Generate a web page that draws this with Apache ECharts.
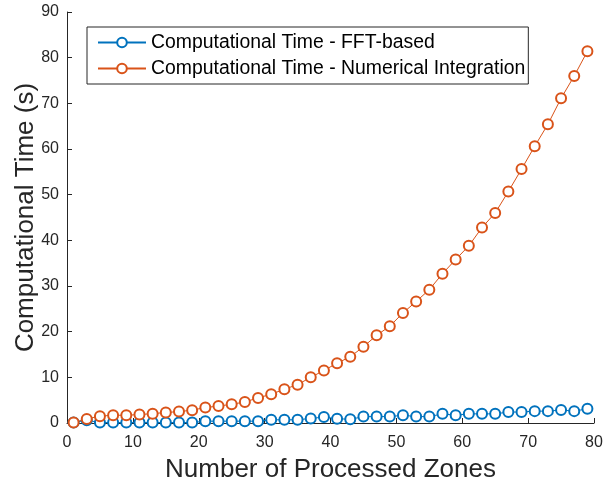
<!DOCTYPE html>
<html>
<head>
<meta charset="utf-8">
<script src="https://cdn.jsdelivr.net/npm/echarts@6/dist/echarts.min.js"></script>
<style>html,body{margin:0;padding:0;background:#fff}#c{width:603px;height:486px}</style>
</head>
<body>
<div id="c"></div>
<script>
const zones = [1,3,5,7,9,11,13,15,17,19,21,23,25,27,29,31,33,35,37,39,41,43,45,47,49,51,53,55,57,59,61,63,65,67,69,71,73,75,77,79];
const fftTime = [0.1,0.6,0.1,0.1,0.1,0.1,0.1,0.1,0.1,0.1,0.4,0.4,0.4,0.4,0.4,0.7,0.7,0.7,1.0,1.3,0.95,0.8,1.4,1.4,1.4,1.7,1.4,1.4,2.0,1.7,2.0,2.0,2.0,2.4,2.4,2.6,2.6,2.85,2.6,3.1];
const numTime = [0.1,0.9,1.5,1.7,1.7,1.85,2.05,2.3,2.5,2.8,3.4,3.7,4.1,4.6,5.5,6.3,7.4,8.4,10.0,11.5,13.1,14.5,16.7,19.2,21.2,24.1,26.6,29.2,32.7,35.8,38.8,42.8,46.0,50.7,55.6,60.6,65.4,71.1,76.0,81.4];
const seriesNames = ['Computational Time - FFT-based','Computational Time - Numerical Integration'];
const xTitle = 'Number of Processed Zones';
const yTitle = 'Computational Time (s)';

const font = 'Liberation Sans, Arial, Helvetica, sans-serif';
const chart = echarts.init(document.getElementById('c'));
const mk = (name, vals, color) => ({
  name, type: 'line',
  data: zones.map((z, i) => [z, vals[i]]),
  symbol: 'emptyCircle', symbolSize: 10,
  lineStyle: { color, width: 1 },
  itemStyle: { color, borderColor: color, borderWidth: 1 },
  emphasis: { disabled: true },
  animation: false
});
chart.setOption({
  animation: false,
  backgroundColor: '#fff',
  grid: { left: 67, right: 9, top: 12, bottom: 63, containLabel: false, outerBoundsMode: 'none' },
  legend: {
    orient: 'vertical', left: 87, top: 27,
    borderColor: '#262626', borderWidth: 1, borderRadius: 0,
    padding: [5, 3, 5, 10], itemGap: 5,
    itemWidth: 48, itemHeight: 12,
    textStyle: { fontFamily: font, fontSize: 19.4, lineHeight: 21, color: '#000' },
    data: seriesNames
  },
  xAxis: {
    type: 'value', min: 0, max: 80, interval: 10,
    name: xTitle, nameLocation: 'middle', nameGap: 34, nameMoveOverlap: false,
    nameTextStyle: { fontFamily: font, fontSize: 26, color: '#262626' },
    axisLine: { show: true, lineStyle: { color: '#262626', width: 1 } },
    axisTick: { inside: true, length: 5, lineStyle: { color: '#262626' } },
    axisLabel: { fontFamily: font, fontSize: 16, color: '#262626', margin: 12 },
    splitLine: { show: false }
  },
  yAxis: {
    type: 'value', min: 0, max: 90, interval: 10,
    name: yTitle, nameLocation: 'middle', nameGap: 28, nameMoveOverlap: false,
    nameTextStyle: { fontFamily: font, fontSize: 26, color: '#262626' },
    axisLine: { show: true, lineStyle: { color: '#262626', width: 1 } },
    axisTick: { show: true, inside: true, length: 5, lineStyle: { color: '#262626' } },
    axisLabel: { fontFamily: font, fontSize: 16, color: '#262626', margin: 8 },
    splitLine: { show: false }
  },
  series: [
    mk(seriesNames[0], fftTime, '#0072BD'),
    mk(seriesNames[1], numTime, '#D95319')
  ]
});
</script>
</body>
</html>
